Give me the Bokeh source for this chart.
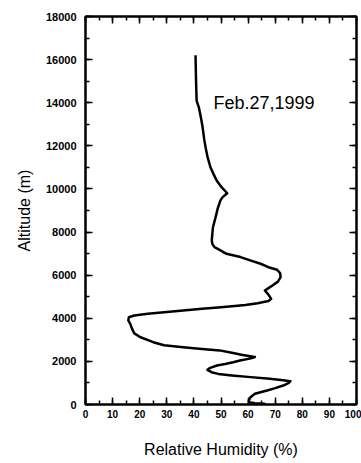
from bokeh.plotting import figure
from bokeh.models import LinearAxis, SingleIntervalTicker, Range1d, Label, CustomJSTickFormatter
from bokeh.embed import file_html
from bokeh.resources import INLINE

altitude = [16200, 15000, 14100, 13800, 13300, 12870, 12300, 11940, 11500, 11010,
            10700, 10390, 10080, 9800, 9620, 9470, 9100, 8690, 8200, 7610,
            7450, 7300, 7150, 6990, 6840, 6700, 6530, 6370, 6250, 6100,
            5910, 5700, 5520, 5400, 5290, 5100, 4900, 4800, 4700, 4620,
            4510, 4440, 4360, 4280, 4210, 4130, 4050, 3900, 3740, 3510,
            3300, 3120, 2890, 2750, 2660, 2580, 2510, 2400, 2300, 2200,
            2140, 2040, 1960, 1880, 1810, 1700, 1610, 1500, 1420, 1350,
            1270, 1190, 1130, 1080, 1000, 880, 760, 650, 500, 340,
            200, 110, 60, 50, 30, 0]
rh = [40.6, 40.8, 41.0, 41.8, 42.6, 43.2, 43.8, 44.3, 45.0, 46.1,
      47.2, 48.4, 50.2, 52.3, 50.6, 49.8, 48.8, 48.0, 47.0, 46.6,
      46.8, 47.6, 49.8, 52.0, 57.2, 60.5, 64.6, 67.5, 70.7, 71.8,
      72.0, 71.0, 69.0, 67.5, 66.2, 67.5, 68.5, 67.5, 63.5, 59.0,
      50.0, 43.0, 36.0, 29.0, 23.0, 18.0, 16.0, 15.8, 16.5, 17.2,
      18.0, 20.3, 25.0, 29.0, 36.0, 43.0, 49.5, 54.0, 58.0, 62.5,
      61.0, 57.0, 54.5, 51.5, 48.5, 46.0, 45.0, 46.5, 49.0, 54.0,
      61.0, 68.0, 73.0, 75.6, 75.0, 73.0, 70.0, 67.0, 62.5, 60.9,
      60.3, 60.3, 62.5, 64.6, 66.0, 63.0]

date_label = "Feb.27,1999"
x_title = "Relative Humidity (%)"
y_title = "Altitude (m)"

FONT = "Liberation Sans"

p = figure(width=361, height=463, output_backend="svg", toolbar_location=None,
           x_range=Range1d(0, 100), y_range=Range1d(0, 18000),
           min_border_left=85, min_border_right=5, min_border_top=16, min_border_bottom=59,
           x_axis_label=x_title, y_axis_label=y_title)

p.background_fill_color = "white"
p.border_fill_color = "white"
p.grid.visible = False
p.outline_line_color = "black"
p.outline_line_width = 2

p.xaxis.ticker = SingleIntervalTicker(interval=10, num_minor_ticks=2)
p.yaxis.ticker = SingleIntervalTicker(interval=2000, num_minor_ticks=2)

for ax in (p.xaxis[0], p.yaxis[0]):
    ax.axis_line_color = "black"
    ax.axis_line_width = 2
    ax.major_tick_in = 7
    ax.major_tick_out = 0
    ax.minor_tick_in = 4
    ax.minor_tick_out = 0
    ax.major_tick_line_width = 1.5
    ax.minor_tick_line_width = 1.5
    ax.major_label_text_font = FONT
    ax.major_label_text_font_style = "bold"
    ax.major_label_text_color = "black"
    ax.axis_label_text_font = FONT
    ax.axis_label_text_font_style = "normal"
    ax.axis_label_text_font_size = "16px"
    ax.axis_label_text_color = "black"

p.xaxis.major_label_text_font_size = "10px"
p.yaxis.major_label_text_font_size = "11px"
p.xaxis.major_label_standoff = 5
p.yaxis.major_label_standoff = 9
p.xaxis.axis_label_standoff = 20
p.yaxis.axis_label_standoff = 10

blank = CustomJSTickFormatter(code="return ''")
top = LinearAxis(ticker=SingleIntervalTicker(interval=10, num_minor_ticks=2), formatter=blank)
right = LinearAxis(ticker=SingleIntervalTicker(interval=2000, num_minor_ticks=2), formatter=blank)
for ax in (top, right):
    ax.axis_line_color = "black"
    ax.axis_line_width = 2
    ax.major_tick_in = 7
    ax.major_tick_out = 0
    ax.minor_tick_in = 4
    ax.minor_tick_out = 0
    ax.major_tick_line_width = 1.5
    ax.minor_tick_line_width = 1.5
    ax.major_label_standoff = 0
p.add_layout(top, "above")
p.add_layout(right, "right")

p.line(rh, altitude, line_color="black", line_width=2.5, line_join="round")

p.add_layout(Label(x=47.2, y=13970, text=date_label, text_font=FONT,
                   text_font_size="18px", text_color="black",
                   text_baseline="alphabetic"))

open("out.html", "w").write(file_html(p, INLINE))
